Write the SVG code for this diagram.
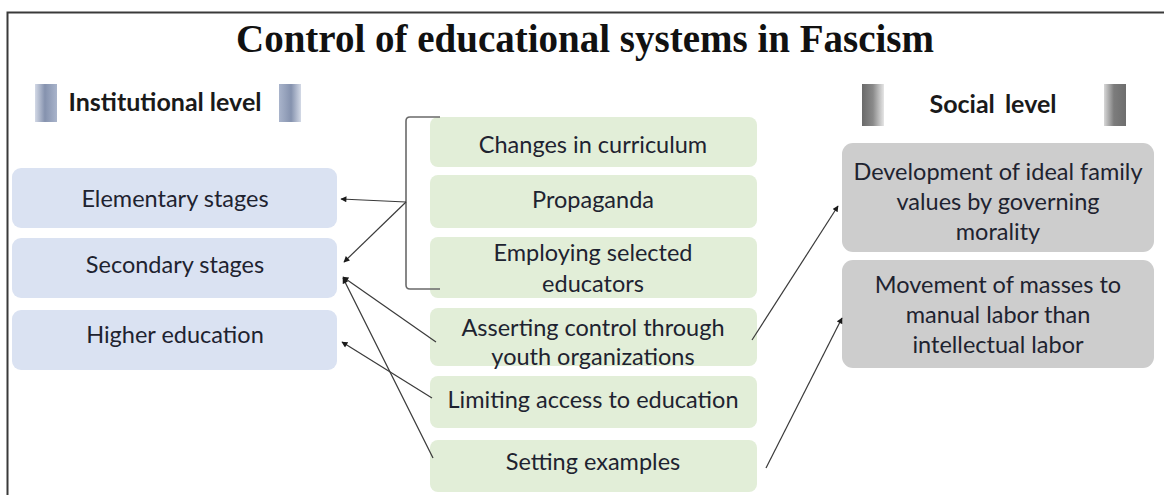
<svg xmlns="http://www.w3.org/2000/svg" width="1164" height="495" viewBox="0 0 1164 495">
  <defs>
    <style>
      .title { font-family: "Liberation Serif", "Times New Roman", serif; font-weight: bold; font-size: 39px; fill: #111; }
      .head { font-family: Lato, "Liberation Sans", sans-serif; font-weight: bold; font-size: 25px; fill: #1a1a1a; }
      .lbl { font-family: Lato, "Liberation Sans", sans-serif; font-size: 23.5px; fill: #1e2330; text-anchor: middle; }
      .blue { fill: #dae2f2; }
      .green { fill: #e2eed8; }
      .gray { fill: #cdcdcd; }
      .conn { stroke: #3a3a3a; stroke-width: 1.2; fill: none; }
      .bracket { stroke: #6a6a6a; stroke-width: 1.6; fill: none; }
    </style>
    <linearGradient id="blueBarL" x1="0" y1="0" x2="1" y2="0">
      <stop offset="0" stop-color="#d3d9e6"/>
      <stop offset="0.45" stop-color="#8592ae"/>
      <stop offset="1" stop-color="#a9b4cb"/>
    </linearGradient>
    <linearGradient id="blueBarR" x1="0" y1="0" x2="1" y2="0">
      <stop offset="0" stop-color="#a9b4cb"/>
      <stop offset="0.55" stop-color="#8592ae"/>
      <stop offset="1" stop-color="#d3d9e6"/>
    </linearGradient>
    <linearGradient id="grayBarL" x1="0" y1="0" x2="1" y2="0">
      <stop offset="0" stop-color="#6a6a6a"/>
      <stop offset="0.5" stop-color="#8a8a8a"/>
      <stop offset="1" stop-color="#e6e6e6"/>
    </linearGradient>
    <linearGradient id="grayBarR" x1="0" y1="0" x2="1" y2="0">
      <stop offset="0" stop-color="#d8d8d8"/>
      <stop offset="0.45" stop-color="#7c7c7c"/>
      <stop offset="1" stop-color="#6e6e6e"/>
    </linearGradient>
    <marker id="arrow" viewBox="0 0 10 10" refX="9" refY="5" markerWidth="7" markerHeight="6" markerUnits="userSpaceOnUse" orient="auto">
      <path d="M0,0 L10,5 L0,10 z" fill="#1a1a1a"/>
    </marker>
  </defs>

  <rect width="1164" height="495" fill="#ffffff"/>
  <!-- outer frame -->
  <path d="M7.5 495 V12.5 H1164" fill="none" stroke="#3a3a3a" stroke-width="2"/>

  <text class="title" x="585" y="52" text-anchor="middle">Control of educational systems in Fascism</text>

  <!-- column headings -->
  <g id="head-institutional">
    <rect x="35" y="84" width="22" height="38" fill="url(#blueBarL)"/>
    <rect x="279" y="84" width="22" height="38" fill="url(#blueBarR)"/>
    <text class="head" x="165" y="111" text-anchor="middle">Institutional level</text>
  </g>
  <g id="head-social">
    <rect x="862" y="84" width="22" height="42" fill="url(#grayBarL)"/>
    <rect x="1104" y="84" width="22" height="42" fill="url(#grayBarR)"/>
    <text class="head" x="993" y="113" text-anchor="middle" word-spacing="4">Social level</text>
  </g>

  <!-- institutional stages -->
  <g id="elementary">
    <rect class="blue" x="12" y="168" width="325" height="60" rx="9"/>
    <text class="lbl" x="175" y="207">Elementary stages</text>
  </g>
  <g id="secondary">
    <rect class="blue" x="12" y="238" width="325" height="60" rx="9"/>
    <text class="lbl" x="175" y="273">Secondary stages</text>
  </g>
  <g id="higher">
    <rect class="blue" x="12" y="310" width="325" height="60" rx="9"/>
    <text class="lbl" x="175" y="343">Higher education</text>
  </g>

  <!-- means of control -->
  <g id="curriculum">
    <rect class="green" x="430" y="117" width="327" height="50" rx="8"/>
    <text class="lbl" x="593" y="153">Changes in curriculum</text>
  </g>
  <g id="propaganda">
    <rect class="green" x="430" y="175" width="327" height="53" rx="8"/>
    <text class="lbl" x="593" y="208">Propaganda</text>
  </g>
  <g id="educators">
    <rect class="green" x="430" y="237" width="327" height="61" rx="8"/>
    <text class="lbl" x="593" y="261">Employing selected</text>
    <text class="lbl" x="593" y="292">educators</text>
  </g>
  <g id="youth">
    <rect class="green" x="430" y="308" width="327" height="58" rx="8"/>
    <text class="lbl" x="593" y="336">Asserting control through</text>
    <text class="lbl" x="593" y="365">youth organizations</text>
  </g>
  <g id="access">
    <rect class="green" x="430" y="376" width="327" height="52" rx="8"/>
    <text class="lbl" x="593" y="408">Limiting access to education</text>
  </g>
  <g id="examples">
    <rect class="green" x="430" y="440" width="327" height="52" rx="8"/>
    <text class="lbl" x="593" y="470">Setting examples</text>
  </g>

  <!-- social outcomes -->
  <g id="family">
    <rect class="gray" x="842" y="143" width="312" height="109" rx="11"/>
    <text class="lbl" x="998" y="180">Development of ideal family</text>
    <text class="lbl" x="998" y="210">values by governing</text>
    <text class="lbl" x="998" y="240">morality</text>
  </g>
  <g id="labor">
    <rect class="gray" x="842" y="260" width="312" height="108" rx="11"/>
    <text class="lbl" x="998" y="293">Movement of masses to</text>
    <text class="lbl" x="998" y="323">manual labor than</text>
    <text class="lbl" x="998" y="353">intellectual labor</text>
  </g>

  <g id="connectors">
    <path class="bracket" d="M440 117 H410 Q406 117 406 121 V285 Q406 289 410 289 H440"/>
    <path class="conn" d="M406 202 L341 199" marker-end="url(#arrow)"/>
    <path class="conn" d="M406 202 L344 262" marker-end="url(#arrow)"/>
    <path class="conn" d="M436 342 L343 277" marker-end="url(#arrow)"/>
    <path class="conn" d="M433 458 L343 278" marker-end="url(#arrow)"/>
    <path class="conn" d="M432 398 L342 342" marker-end="url(#arrow)"/>
    <path class="conn" d="M752 340 L838 206" marker-end="url(#arrow)"/>
    <path class="conn" d="M766 468 L842 318" marker-end="url(#arrow)"/>
  </g>
</svg>
